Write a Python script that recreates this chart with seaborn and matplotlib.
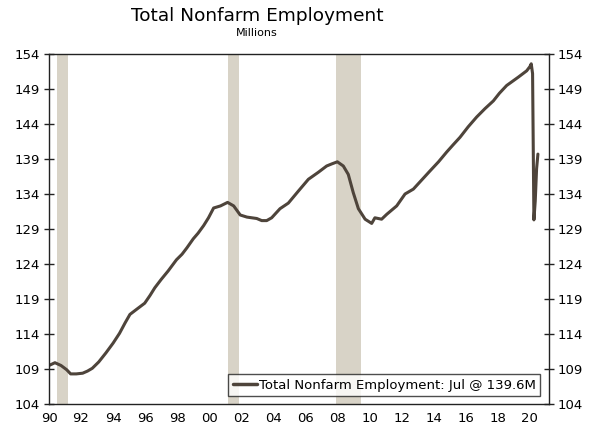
import matplotlib
matplotlib.use("Agg")
import matplotlib.pyplot as plt
import numpy as np
import pandas as pd
import seaborn as sns

# --- data (millions) ---
years = [1990.0, 1990.37, 1990.75, 1991.1, 1991.35, 1991.7, 1992.1, 1992.4, 1992.7,
         1993.1, 1993.55, 1994.0, 1994.4, 1994.75, 1995.05, 1995.45, 1995.97, 1996.3,
         1996.6, 1997.0, 1997.43, 1997.95, 1998.3, 1998.6, 1999.0, 1999.3, 1999.65,
         1999.95, 2000.27, 2000.7, 2001.14, 2001.52, 2001.93, 2002.35, 2002.96, 2003.27,
         2003.58, 2003.89, 2004.41, 2004.93, 2005.55, 2006.18, 2006.8, 2007.32, 2007.64,
         2007.99, 2008.36, 2008.67, 2008.98, 2009.3, 2009.72, 2010.13, 2010.33, 2010.75,
         2011.07, 2011.69, 2012.21, 2012.73, 2013.25, 2013.77, 2014.3, 2014.81, 2015.2,
         2015.64, 2016.15, 2016.68, 2017.2, 2017.72, 2018.1, 2018.55, 2019.28, 2019.8,
         2020.0, 2020.083, 2020.167, 2020.25, 2020.333, 2020.417, 2020.5]
employment = [109.5, 109.9, 109.5, 108.9, 108.3, 108.3, 108.4, 108.7, 109.1,
              110.0, 111.3, 112.7, 114.1, 115.6, 116.8, 117.5, 118.4, 119.5,
              120.6, 121.8, 123.0, 124.6, 125.4, 126.3, 127.6, 128.4, 129.5,
              130.6, 132.0, 132.3, 132.8, 132.3, 131.0, 130.7, 130.5, 130.2,
              130.2, 130.6, 131.9, 132.7, 134.4, 136.1, 137.1, 138.0, 138.3,
              138.6, 138.0, 136.8, 134.2, 131.9, 130.4, 129.8, 130.6, 130.4,
              131.1, 132.3, 134.0, 134.7, 136.0, 137.3, 138.6, 140.0, 141.0,
              142.1, 143.6, 145.0, 146.2, 147.3, 148.4, 149.5, 150.7, 151.6,
              152.2, 152.6, 151.2, 130.3, 133.0, 137.6, 139.7]

rec_start = [1990.48, 2001.15, 2007.88]
rec_end = [1991.2, 2001.87, 2009.46]

x_ticks = list(range(1990, 2021, 2))
x_labels = [f"{y % 100:02d}" for y in x_ticks]
y_ticks = list(range(104, 155, 5))

LINE_COLOR = "#4E443B"
SHADE_COLOR = "#D8D3C7"

df = pd.DataFrame({"year": years, "employment": employment})

sns.set_style("white")
plt.rcParams["font.family"] = ["DejaVu Sans"]
plt.rcParams["text.color"] = "black"

fig = plt.figure(figsize=(6, 4.37), dpi=100)
ax = fig.add_axes([49 / 600, 1 - 404 / 437, 500 / 600, 350 / 437])

# recession shading
for s, e in zip(rec_start, rec_end):
    ax.axvspan(s, e, color=SHADE_COLOR, lw=0, zorder=0)

sns.lineplot(data=df, x="year", y="employment", ax=ax, color=LINE_COLOR,
             linewidth=2.2, label="Total Nonfarm Employment: Jul @ 139.6M")

ax.set_xlim(1990, 1990 + 500 / 16.03)
ax.set_ylim(104, 154)
ax.set_xticks(x_ticks)
ax.set_xticklabels(x_labels)
ax.set_yticks(y_ticks)
ax.set_xlabel("")
ax.set_ylabel("")

for side in ["left", "right", "top", "bottom"]:
    ax.spines[side].set_visible(True)
    ax.spines[side].set_color("#222222")
    ax.spines[side].set_linewidth(1.0)

ax.tick_params(axis="both", direction="inout", length=7, width=1.0,
               colors="#222222", labelsize=9.5, labelcolor="black")
ax.tick_params(axis="x", pad=2)
ax.tick_params(axis="y", left=True, right=True, labelleft=True, labelright=True, pad=3)
ax.grid(False)

leg = ax.legend(loc="lower right", bbox_to_anchor=(0.982, 0.022), frameon=True,
                fancybox=False, edgecolor="#222222", fontsize=9.5,
                handlelength=1.8, handletextpad=0.15, borderpad=0.35,
                borderaxespad=0)
leg.get_frame().set_linewidth(1.0)
for h in leg.get_lines():
    h.set_linewidth(2.5)
for t in leg.get_texts():
    t.set_color("black")

fig.text(257 / 600, 1 - 16 / 437, "Total Nonfarm Employment", ha="center",
         va="center", fontsize=13.3, color="black")
fig.text(257 / 600, 1 - 33 / 437, "Millions", ha="center", va="center",
         fontsize=8, color="black")

fig.savefig("out.png", dpi=100)
